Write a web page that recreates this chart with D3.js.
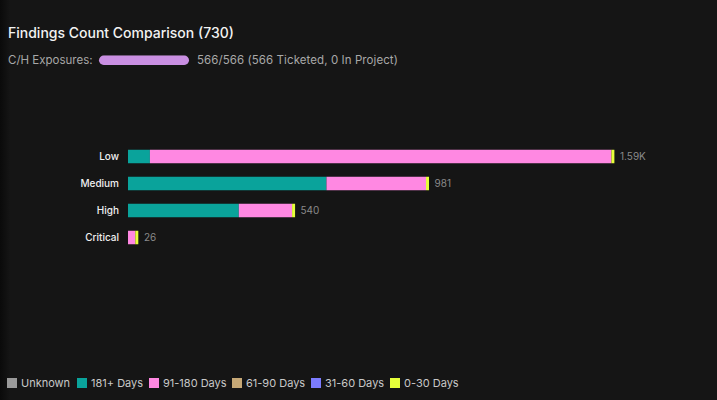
<!DOCTYPE html>
<html>
<head>
<meta charset="utf-8">
<script src="https://cdn.jsdelivr.net/npm/d3@7"></script>
<style>
  html, body { margin: 0; padding: 0; background: #151515; }
  #chart { width: 717px; height: 400px; }
</style>
</head>
<body>
<div id="chart"></div>
<script>
// chart data
var categories = ["Low", "Medium", "High", "Critical"];
var seriesNames = ["Unknown", "181+ Days", "91-180 Days", "61-90 Days", "31-60 Days", "0-30 Days"];
var seriesColors = ["#9a9a9a", "#0aa39b", "#ff88e2", "#c6a876", "#7c7cff", "#e6ff3a"];
// values per series, in category order
var unknown   = [0, 0, 0, 0];
var days181   = [72, 652, 364, 0];
var days91    = [1516, 327, 175, 24];
var days61    = [0, 0, 0, 0];
var days31    = [0, 0, 0, 0];
var days0     = [2, 2, 1, 2];
var totalLabels = ["1.59K", "981", "540", "26"];
var exposures = { done: 566, total: 566, ticketed: 566, inProject: 0 };

var width = 717;
var height = 400;
var font = "Inter, 'Noto Sans', sans-serif";

var svg = d3.select("#chart")
  .append("svg")
  .attr("width", width)
  .attr("height", height);

// faint dark shade at the left edge
var defs = svg.append("defs");
var grad = defs.append("linearGradient").attr("id", "edge");
grad.append("stop").attr("offset", "0%").attr("stop-color", "#0a0a0a");
grad.append("stop").attr("offset", "100%").attr("stop-color", "#151515");
svg.append("rect").attr("width", width).attr("height", height).attr("fill", "#151515");
svg.append("rect").attr("width", 10).attr("height", height).attr("fill", "url(#edge)");

// header
svg.append("text")
  .attr("x", 8).attr("y", 38)
  .attr("font-family", font).attr("font-size", 14).attr("font-weight", 500)
  .attr("fill", "#f2f2f2")
  .text("Findings Count Comparison (730)");

svg.append("text")
  .attr("x", 8).attr("y", 64)
  .attr("font-family", font).attr("font-size", 11.5)
  .attr("fill", "#a8a8a8")
  .text("C/H Exposures:");

var pill = d3.scaleLinear().domain([0, exposures.total]).range([0, 90]);
svg.append("rect")
  .attr("x", 99).attr("y", 55.5)
  .attr("width", 90).attr("height", 9.5).attr("rx", 4.75)
  .attr("fill", "#333");
svg.append("rect")
  .attr("x", 99).attr("y", 55.5)
  .attr("width", pill(exposures.done)).attr("height", 9.5).attr("rx", 4.75)
  .attr("fill", "#c98fe2");

svg.append("text")
  .attr("x", 197).attr("y", 64)
  .attr("font-family", font).attr("font-size", 11.5)
  .attr("letter-spacing", 0.08)
  .attr("fill", "#a8a8a8")
  .text(exposures.done + "/" + exposures.total + " (" + exposures.ticketed + " Ticketed, " + exposures.inProject + " In Project)");

// stack the series
var seriesValues = [unknown, days181, days91, days61, days31, days0];
var rows = categories.map(function (c, i) {
  var row = { cat: c };
  seriesNames.forEach(function (s, j) { row[s] = seriesValues[j][i]; });
  return row;
});
var stacked = d3.stack().keys(seriesNames)(rows);

var x = d3.scaleLinear().domain([0, 1590]).range([128, 612]);
var y = d3.scaleBand().domain(categories).range([143, 251]).paddingInner(0.5).paddingOuter(0.25);

var layers = svg.append("g").selectAll("g")
  .data(stacked)
  .enter()
  .append("g")
  .attr("fill", function (d, i) { return seriesColors[i]; });

layers.selectAll("rect")
  .data(function (d) { return d.filter(function (p) { return p[1] - p[0] > 0; }); })
  .enter()
  .append("rect")
  .attr("x", function (d) { return x(d[0]); })
  .attr("y", function (d) { return y(d.data.cat); })
  .attr("height", y.bandwidth())
  .attr("width", function (d, i, nodes) {
    var w = x(d[1]) - x(d[0]);
    // the last (0-30) piece gets a thin visible minimum
    return d3.select(nodes[i].parentNode).datum().key === "0-30 Days" ? Math.max(3, w) : w;
  });

// bar ends (include the minimum width of the cap)
function barEnd(i) {
  var total = d3.sum(seriesValues, function (s) { return s[i]; });
  return x(total) + 3;
}

svg.append("g").selectAll("text")
  .data(categories)
  .enter()
  .append("text")
  .attr("x", 119)
  .attr("y", function (d) { return y(d) + y.bandwidth() / 2; })
  .attr("dy", "0.35em")
  .attr("text-anchor", "end")
  .attr("font-family", font).attr("font-size", 10).attr("font-weight", 500)
  .attr("fill", "#f0f0f0")
  .text(function (d) { return d; });

svg.append("g").selectAll("text")
  .data(categories)
  .enter()
  .append("text")
  .attr("x", function (d, i) { return barEnd(i) + 5; })
  .attr("y", function (d) { return y(d) + y.bandwidth() / 2; })
  .attr("dy", "0.35em")
  .attr("font-family", font).attr("font-size", 10)
  .attr("fill", "#8a8a8a")
  .text(function (d, i) { return totalLabels[i]; });

// legend
var legendX = [7, 77, 149, 232, 311, 390];
var legend = svg.append("g").selectAll("g")
  .data(seriesNames)
  .enter()
  .append("g")
  .attr("transform", function (d, i) { return "translate(" + legendX[i] + ",378)"; });

legend.append("rect")
  .attr("width", 10).attr("height", 10)
  .attr("fill", function (d, i) { return seriesColors[i]; });

legend.append("text")
  .attr("x", 14).attr("y", 5)
  .attr("dy", "0.35em")
  .attr("font-family", font).attr("font-size", 11)
  .attr("fill", "#c8c8c8")
  .text(function (d) { return d; });
</script>
</body>
</html>
